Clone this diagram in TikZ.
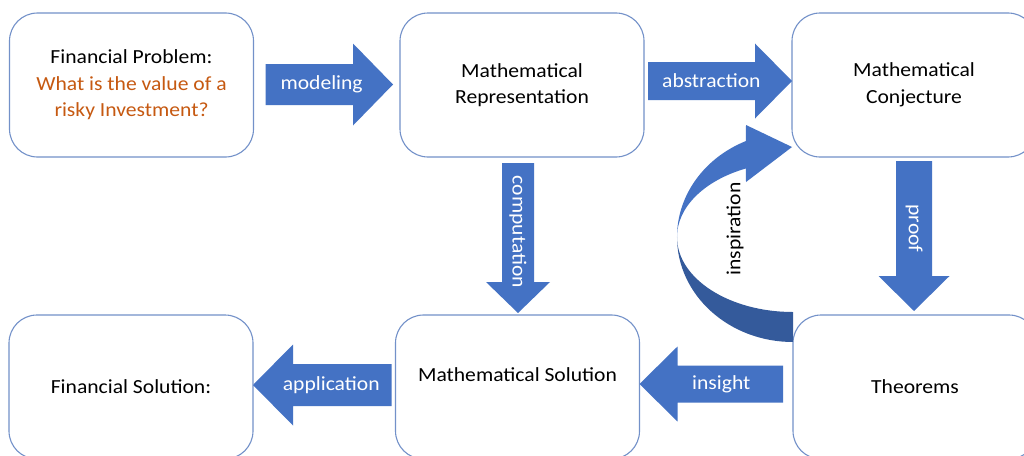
\documentclass[tikz,border=0pt]{standalone}
\usepackage{fontspec}
\setmainfont{Carlito}[FakeStretch=1.08]
\usetikzlibrary{calc}
\definecolor{arrowblue}{HTML}{4472C4}
\definecolor{arrowdark}{HTML}{345A9B}
\definecolor{boxline}{HTML}{7391C9}
\definecolor{qorange}{HTML}{C65911}
\newcommand\blockarrow[6]{% #1 tail, #2 tip, #3 shaft half width, #4 head half width, #5 head length, #6 name
  \coordinate (#6-c) at ($(#2)!#5!(#1)$);
  \fill[arrowfillstyle] ($(#1)!#3!90:(#2)$) -- ($(#6-c)!#3!90:(#2)$) -- ($(#6-c)!#4!90:(#2)$) -- (#2)
     -- ($(#6-c)!#4!-90:(#2)$) -- ($(#6-c)!#3!-90:(#2)$) -- ($(#1)!#3!-90:(#2)$) -- cycle;
}
\begin{document}
\begin{tikzpicture}[x=1pt,y=-1pt,
  box/.style={draw=boxline, line width=1.1pt, rounded corners=28pt, minimum width=244pt,
    minimum height=144pt, inner sep=0pt, outer sep=0pt, align=center, fill=white,
    font=\fontsize{20}{26.5}\selectfont, text=black},
  arrowfillstyle/.style={fill=arrowblue},
  lbl/.style={text=white, font=\fontsize{20}{24}\selectfont, inner sep=0pt},
  side/.style={text=black, font=\fontsize{20}{24}\selectfont, inner sep=0pt}]
\useasboundingbox (0,0) rectangle (1024,455);
\fill[white] (0,0) rectangle (1024,455);
\clip (0,0) rectangle (1024,455);

% boxes
\node[box] (fp) at (131.5,85) {Financial Problem:\\\textcolor{qorange}{What is the value of a}\\\textcolor{qorange}{risky Investment?}};
\node[box] (mr) at (522,85) {Mathematical\\Representation};
\node[box] (mc) at (914,85) {Mathematical\\Conjecture};
\node[box] (fs) at (131,387) {Financial Solution:};
\node[box] (ms) at (517.5,387) {};
\node[side] (msl) at ($(ms.center)+(0,-12)$) {Mathematical Solution};
\node[box] (th) at (915,387) {Theorems};

% straight block arrows
\coordinate (mod-a) at ($(fp.east)+(12,-0.5)$);
\coordinate (mod-b) at ($(mr.west)+(-7,-0.5)$);
\blockarrow{mod-a}{mod-b}{20.5pt}{41pt}{40pt}{mod}
\node[lbl] (lmod) at ($(mod-a)!0.44!(mod-b)$) {modeling};

\coordinate (abs-a) at ($(mr.east)+(4,-4)$);
\coordinate (abs-b) at ($(mc.west)+(0,-4)$);
\blockarrow{abs-a}{abs-b}{19pt}{37.5pt}{37pt}{abs}
\node[lbl] (labs) at ($(abs-a)!0.44!(abs-b)$) {abstraction};

\coordinate (com-a) at ($(mr.south)+(-4,6)$);
\coordinate (com-b) at ($(ms.north)+(0.5,-2)$);
\blockarrow{com-a}{com-b}{16pt}{32pt}{31pt}{com}
\node[lbl, rotate=-90] (lcom) at ($(com-a)!0.46!(com-b)$) {computation};

\coordinate (prf-a) at ($(mc.south)+(0,4)$);
\coordinate (prf-b) at ($(th.north)+(-1,-4)$);
\blockarrow{prf-a}{prf-b}{18pt}{35.5pt}{35pt}{prf}
\node[lbl, rotate=-90] (lprf) at ($(prf-a)!0.45!(prf-b)$) {proof};

\coordinate (ins-a) at ($(th.west)+(-10,-3)$);
\coordinate (ins-b) at ($(ms.east)+(0,-3)$);
\blockarrow{ins-a}{ins-b}{18.5pt}{37.5pt}{38pt}{ins}
\node[lbl] (lins) at ($(ins-a)!0.43!(ins-b)$) {insight};

\coordinate (app-a) at ($(ms.west)+(-4,-2)$);
\coordinate (app-b) at ($(fs.east)+(0,-2)$);
\blockarrow{app-a}{app-b}{21pt}{40.5pt}{40pt}{app}
\node[lbl] (lapp) at ($(app-a)!0.435!(app-b)$) {application};

% curved inspiration arrow from Theorems to Conjecture
\coordinate (ic) at ($(th.north west)+(0,-78)$);
\fill[arrowdark] ($(ic)+(-116,0)$) arc[start angle=180, end angle=270, x radius=116pt, y radius=105pt]
  -- ($(ic)+(0,75)$) arc[start angle=270, end angle=180, x radius=116pt, y radius=75pt] -- cycle;
\fill[arrowblue] ($(ic)+(-116,0)$) arc[start angle=180, end angle=114, x radius=116pt, y radius=105pt]
  -- ($(ic)+(-47,-112)$) -- ($(mc.south west)+(0,-10)$) -- ($(ic)+(-47,-55)$)
  -- ($(ic)+(-47.2,-68.5)$) arc[start angle=114, end angle=180, x radius=116pt, y radius=75pt] -- cycle;
\node[side, rotate=90] (lisp) at ($(ic)+(-58,-8)$) {inspiration};
\end{tikzpicture}
\end{document}
